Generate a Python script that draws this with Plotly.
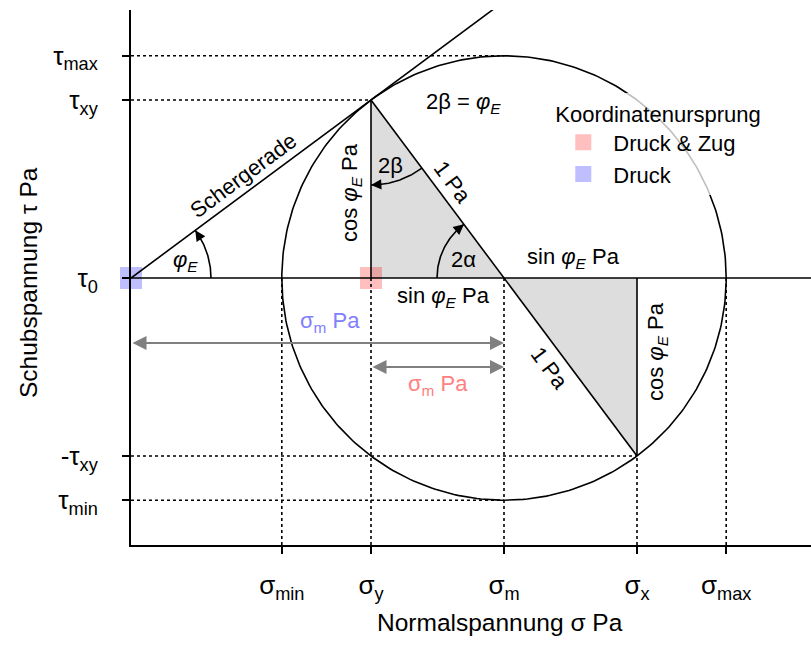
import numpy as np
import plotly.graph_objects as go

# ---- data (arbitrary stress units) ----
sigma_x = 5.06
sigma_y = 2.40
tau_xy = 1.78

sigma_m = (sigma_x + sigma_y) / 2
R = np.hypot((sigma_x - sigma_y) / 2, tau_xy)
sigma_max = sigma_m + R
sigma_min = sigma_m - R
tau_max = R
tau_min = -R
phi_E = np.arctan2(tau_xy, sigma_y)
two_alpha = np.arctan2(tau_xy, sigma_m - sigma_y)

x_range = [0, 6.80]
y_range = [-2.67, 2.68]

x_tick_vals = [sigma_min, sigma_y, sigma_m, sigma_x, sigma_max]
x_tick_text = ["σ<sub>min</sub>", "σ<sub>y</sub>", "σ<sub>m</sub>", "σ<sub>x</sub>", "σ<sub>max</sub>"]
y_tick_vals = [tau_max, tau_xy, 0, -tau_xy, tau_min]
y_tick_text = ["τ<sub>max</sub>", "τ<sub>xy</sub>", "τ<sub>0</sub>", "-τ<sub>xy</sub>", "τ<sub>min</sub>"]

arrow_y_blue = -0.65
arrow_y_red = -0.89

FONT = "Liberation Sans, Arial, sans-serif"
BLACK = "black"
GRAY_FILL = "rgb(221,221,221)"
ARROW_GRAY = "rgb(128,128,128)"
PINK = "rgba(255,0,0,0.25)"
BLUE = "rgba(0,0,255,0.25)"

fig = go.Figure()

def line(xs, ys, dash="solid", width=1.6, color=BLACK):
    fig.add_trace(go.Scatter(x=xs, y=ys, mode="lines", showlegend=False, hoverinfo="skip",
                             line=dict(color=color, width=width, dash=dash)))

# gray triangles
fig.add_trace(go.Scatter(x=[sigma_y, sigma_y, sigma_m, sigma_y], y=[tau_xy, 0, 0, tau_xy],
                         fill="toself", fillcolor=GRAY_FILL, mode="none", showlegend=False, hoverinfo="skip"))
fig.add_trace(go.Scatter(x=[sigma_m, sigma_x, sigma_x, sigma_m], y=[0, 0, -tau_xy, 0],
                         fill="toself", fillcolor=GRAY_FILL, mode="none", showlegend=False, hoverinfo="skip"))

# origin markers (also legend)
fig.add_trace(go.Scatter(x=[sigma_y], y=[0], mode="markers", name="Druck & Zug",
                         marker=dict(symbol="square", size=22, color=PINK), cliponaxis=False))
fig.add_trace(go.Scatter(x=[0], y=[0], mode="markers", name="Druck",
                         marker=dict(symbol="square", size=22, color=BLUE), cliponaxis=False))

# dotted helper lines
line([0, sigma_m], [tau_max, tau_max], "dot")
line([0, sigma_y], [tau_xy, tau_xy], "dot")
line([0, sigma_x], [-tau_xy, -tau_xy], "dot")
line([0, sigma_m], [tau_min, tau_min], "dot")
for xv, ytop in [(sigma_min, 0), (sigma_y, 0), (sigma_m, 0), (sigma_x, -tau_xy), (sigma_max, 0)]:
    line([xv, xv], [y_range[0], ytop], "dot")

# tau = 0 line
line(x_range, [0, 0])

# circle
t = np.linspace(0, 2 * np.pi, 361)
line(sigma_m + R * np.cos(t), R * np.sin(t))

# Schergerade
line([0, y_range[1] * sigma_y / tau_xy * 1.05], [0, y_range[1] * 1.05])

# triangle edges
line([sigma_y, sigma_y], [0, tau_xy])
line([sigma_y, sigma_x], [tau_xy, -tau_xy])
line([sigma_x, sigma_x], [0, -tau_xy])

# arcs
def arc(cx, cy, r, a0, a1):
    a = np.linspace(a0, a1, 60)
    line(cx + r * np.cos(a), cy + r * np.sin(a))
    d = 0.12 if a1 > a0 else -0.12
    fig.add_annotation(x=cx + r * np.cos(a1), y=cy + r * np.sin(a1),
                       ax=cx + r * np.cos(a1 - d), ay=cy + r * np.sin(a1 - d),
                       xref="x", yref="y", axref="x", ayref="y", text="", showarrow=True,
                       arrowhead=2, arrowsize=1.3, arrowwidth=1.6, arrowcolor=BLACK)

arc(0, 0, 0.80, 0, phi_E)
arc(sigma_y, tau_xy, 0.85, -two_alpha, -np.pi / 2)
arc(sigma_m, 0, 0.67, np.pi, np.pi - two_alpha)

# double arrows
for x0, x1, yv in [(0, sigma_m, arrow_y_blue), (sigma_y, sigma_m, arrow_y_red)]:
    fig.add_annotation(x=x1, y=yv, ax=x0, ay=yv, xref="x", yref="y", axref="x", ayref="y",
                       text="", showarrow=True, arrowside="end+start", arrowhead=2, startarrowhead=2,
                       arrowsize=1.4, startarrowsize=1.4, arrowwidth=2, arrowcolor=ARROW_GRAY)

deg = np.degrees
phiE = "<i>φ</i><sub><i>E</i></sub>"
labels = [
    ("Schergerade", 1.12, 1.03, -deg(phi_E), BLACK),
    (phiE, 0.54, 0.17, 0, BLACK),
    ("2β = " + phiE, 3.32, 1.75, 0, BLACK),
    ("cos " + phiE + " Pa", 2.20, 0.85, -90, BLACK),
    ("2β", 2.59, 1.13, 0, BLACK),
    ("1 Pa", 3.22, 0.96, deg(two_alpha), BLACK),
    ("2α", 3.32, 0.19, 0, BLACK),
    ("sin " + phiE + " Pa", 4.42, 0.20, 0, BLACK),
    ("sin " + phiE + " Pa", 3.12, -0.19, 0, BLACK),
    ("1 Pa", 4.19, -0.90, deg(two_alpha), BLACK),
    ("cos " + phiE + " Pa", 5.26, -0.74, -90, BLACK),
    ("σ<sub>m</sub> Pa", 1.99, -0.44, 0, "rgb(128,128,255)"),
    ("σ<sub>m</sub> Pa", 3.07, -1.07, 0, "rgb(255,128,128)"),
]
for txt, xv, yv, ang, col in labels:
    fig.add_annotation(x=xv, y=yv, xref="x", yref="y", text=txt, showarrow=False, textangle=ang,
                       xanchor="center", yanchor="middle",
                       font=dict(size=22, color=col, family=FONT))

# axis titles
fig.add_annotation(x=(500 - 131) / 680, y=(545 - 622) / 535, xref="paper", yref="paper",
                   text="Normalspannung σ Pa", xanchor="center", yanchor="middle",
                   showarrow=False, font=dict(size=24.5, color=BLACK, family=FONT))
fig.add_annotation(x=(28 - 131) / 680, y=(545 - 283) / 535, xref="paper", yref="paper",
                   text="Schubspannung τ Pa", xanchor="center", yanchor="middle",
                   showarrow=False, textangle=-90, font=dict(size=24.5, color=BLACK, family=FONT))

fig.update_layout(
    width=811, height=661,
    margin=dict(l=131, r=0, t=10, b=116),
    paper_bgcolor="white", plot_bgcolor="white",
    font=dict(family=FONT, color=BLACK, size=22),
    xaxis=dict(range=x_range, showgrid=False, zeroline=False, showline=True, linewidth=2, linecolor=BLACK,
               ticks="outside", ticklen=7, tickwidth=2, tickcolor=BLACK,
               tickvals=x_tick_vals, ticktext=x_tick_text, ticklabelstandoff=9,
               tickfont=dict(size=26, family=FONT)),
    yaxis=dict(range=y_range, showgrid=False, zeroline=False, showline=True, linewidth=2, linecolor=BLACK,
               ticks="outside", ticklen=7, tickwidth=2, tickcolor=BLACK,
               tickvals=y_tick_vals, ticktext=y_tick_text, ticklabelstandoff=19,
               tickfont=dict(size=26, family=FONT)),
    legend=dict(x=0.621, y=0.845, xanchor="left", yanchor="top",
                bgcolor="rgba(255,255,255,0.75)", borderwidth=0,
                title=dict(text="Koordinatenursprung", font=dict(size=22, family=FONT)),
                font=dict(size=22, family=FONT), itemwidth=50, tracegroupgap=0),
)

fig.write_html("out.html")
